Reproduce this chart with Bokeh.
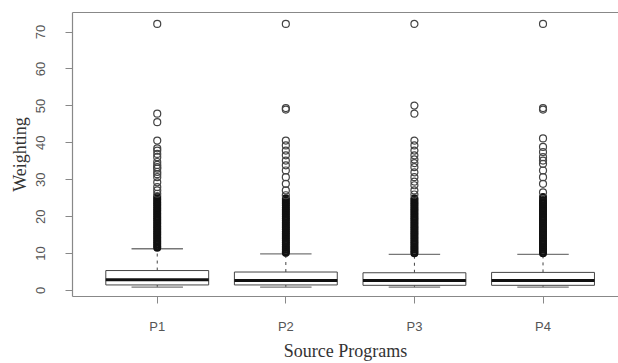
import numpy as np
from bokeh.plotting import figure
from bokeh.models import Range1d, FixedTicker, LinearAxis
from bokeh.embed import file_html
from bokeh.resources import INLINE

# ---- data ----
groups = ["P1", "P2", "P3", "P4"]
lower_whisker = [0.9, 0.9, 0.9, 0.9]
q1 = [1.5, 1.5, 1.4, 1.4]
median = [2.9, 2.7, 2.7, 2.7]
q3 = [5.4, 5.0, 4.8, 4.9]
upper_whisker = [11.3, 9.9, 9.8, 9.8]

# densely packed outliers just above the upper whisker
dense_p1 = [11.6, 12.0, 12.5, 13.0, 13.5, 14.0, 14.5, 15.0, 15.5, 16.0,
            16.5, 17.0, 17.5, 18.0, 18.5, 19.0, 19.5, 20.0, 20.5, 21.0,
            21.5, 22.0, 22.5, 23.0, 23.5, 24.0, 24.5, 25.0, 25.5]
dense_p2 = [10.2, 10.5, 11.0, 11.5, 12.0, 12.5, 13.0, 13.5, 14.0, 14.5,
            15.0, 15.5, 16.0, 16.5, 17.0, 17.5, 18.0, 18.5, 19.0, 19.5,
            20.0, 20.5, 21.0, 21.5, 22.0, 22.5, 23.0, 23.5, 24.0, 24.5, 25.0]
dense_p3 = [10.1, 10.5, 11.0, 11.5, 12.0, 12.5, 13.0, 13.5, 14.0, 14.5,
            15.0, 15.5, 16.0, 16.5, 17.0, 17.5, 18.0, 18.5, 19.0, 19.5,
            20.0, 20.5, 21.0, 21.5, 22.0, 22.5, 23.0, 23.5, 24.0, 24.5, 25.0]
dense_p4 = [10.1, 10.5, 11.0, 11.5, 12.0, 12.5, 13.0, 13.5, 14.0, 14.5,
            15.0, 15.5, 16.0, 16.5, 17.0, 17.5, 18.0, 18.5, 19.0, 19.5,
            20.0, 20.5, 21.0, 21.5, 22.0, 22.5, 23.0, 23.5, 24.0, 24.5, 25.3]

# separate outliers
outliers_p1 = [26.2, 27.1, 28.0, 29.3, 30.7, 31.5, 32.1, 33.0, 33.4, 34.0,
               34.8, 36.1, 37.0, 37.9, 38.5, 40.6, 45.6, 47.9, 72.2]
outliers_p2 = [25.8, 27.1, 28.9, 30.7, 32.5, 33.9, 35.2, 36.6, 37.9, 39.3,
               40.6, 49.0, 49.4, 72.2]
outliers_p3 = [26.0, 27.1, 28.5, 29.5, 30.7, 32.0, 33.4, 34.5, 35.5, 36.6,
               37.9, 39.3, 40.6, 47.9, 50.1, 72.2]
outliers_p4 = [26.6, 28.9, 30.7, 32.5, 34.3, 35.2, 36.1, 37.5, 38.9, 41.2,
               49.0, 49.4, 72.2]
y_ticks = [0, 10, 20, 30, 40, 50, 60, 70]

x_title = "Source Programs"
y_title = "Weighting"

# ---- figure ----
p = figure(width=618, height=363,
           x_range=Range1d(0.341, 4.587), y_range=Range1d(-1.63, 75.3),
           output_backend="svg", toolbar_location=None,
           min_border_left=72, min_border_right=0,
           min_border_top=12, min_border_bottom=67)
p.outline_line_color = None
p.grid.visible = False
p.background_fill_color = "white"
p.border_fill_color = "white"

pos = np.arange(1, len(groups) + 1, dtype=float)
half = 0.4
cap = 0.2
lw = np.array(lower_whisker)
b1 = np.array(q1)
md = np.array(median)
b3 = np.array(q3)
uw = np.array(upper_whisker)

# whiskers (dashed)
p.segment(x0=pos, y0=b3, x1=pos, y1=uw, line_color="#444", line_width=1,
          line_dash="3 4")
p.segment(x0=pos, y0=lw, x1=pos, y1=b1, line_color="#444", line_width=1,
          line_dash="3 4")
# boxes
p.quad(left=pos - half, right=pos + half, bottom=b1, top=b3,
       fill_color="white", line_color="#444", line_width=1)
# medians
p.segment(x0=pos - half, y0=md, x1=pos + half, y1=md,
          line_color="#111", line_width=3)
# staples
p.segment(x0=pos - cap, y0=uw, x1=pos + cap, y1=uw, line_color="#777", line_width=1.3)
p.segment(x0=pos - cap, y0=lw, x1=pos + cap, y1=lw, line_color="#777", line_width=1.3)

# outliers
dense_all = [dense_p1, dense_p2, dense_p3, dense_p4]
dx = np.concatenate([np.full(len(o), pos[i]) for i, o in enumerate(dense_all)])
dy = np.concatenate([np.array(o) for o in dense_all])
p.scatter(x=dx, y=dy, marker="circle", size=6, fill_color=None,
          line_color="#111", line_width=2)

out_all = [outliers_p1, outliers_p2, outliers_p3, outliers_p4]
ox = np.concatenate([np.full(len(o), pos[i]) for i, o in enumerate(out_all)])
oy = np.concatenate([np.array(o) for o in out_all])
p.scatter(x=ox, y=oy, marker="circle", size=7, fill_color=None,
          line_color="#444", line_width=1.2)

# axes styling
frame_col = "#888"
xa = p.xaxis[0]
xa.ticker = FixedTicker(ticks=list(pos))
xa.major_label_overrides = {float(v): g for v, g in zip(pos, groups)}
xa.major_label_overrides.update({int(v): g for v, g in zip(pos, groups)})
xa.minor_tick_line_color = None
xa.major_tick_out = 7
xa.major_tick_in = 0
xa.major_tick_line_color = frame_col
xa.axis_line_color = frame_col
xa.axis_line_width = 1.2
xa.major_label_standoff = 15
xa.major_label_text_font = "Liberation Sans"
xa.major_label_text_font_size = "13px"
xa.major_label_text_color = "#555"
xa.axis_label = x_title
xa.axis_label_text_font = "Liberation Serif"
xa.axis_label_text_font_size = "18px"
xa.axis_label_text_font_style = "normal"
xa.axis_label_text_color = "#333"
xa.axis_label_standoff = 4

ya = p.yaxis[0]
ya.ticker = FixedTicker(ticks=y_ticks)
ya.minor_tick_line_color = None
ya.major_tick_out = 7
ya.major_tick_in = 0
ya.major_tick_line_color = frame_col
ya.axis_line_color = frame_col
ya.axis_line_width = 1.2
ya.major_label_orientation = "vertical"
ya.major_label_standoff = 20
ya.major_label_text_font = "Liberation Sans"
ya.major_label_text_font_size = "13px"
ya.major_label_text_color = "#555"
ya.axis_label = y_title
ya.axis_label_text_font = "Liberation Serif"
ya.axis_label_text_font_size = "18px"
ya.axis_label_text_font_style = "normal"
ya.axis_label_text_color = "#333"
ya.axis_label_standoff = 4

top = LinearAxis(ticker=FixedTicker(ticks=[]), major_tick_out=0, major_tick_in=0,
                 minor_tick_out=0, minor_tick_in=0, major_label_standoff=0,
                 axis_line_color=frame_col, axis_line_width=1.2)
p.add_layout(top, "above")

open("out.html", "w").write(file_html(p, INLINE))
